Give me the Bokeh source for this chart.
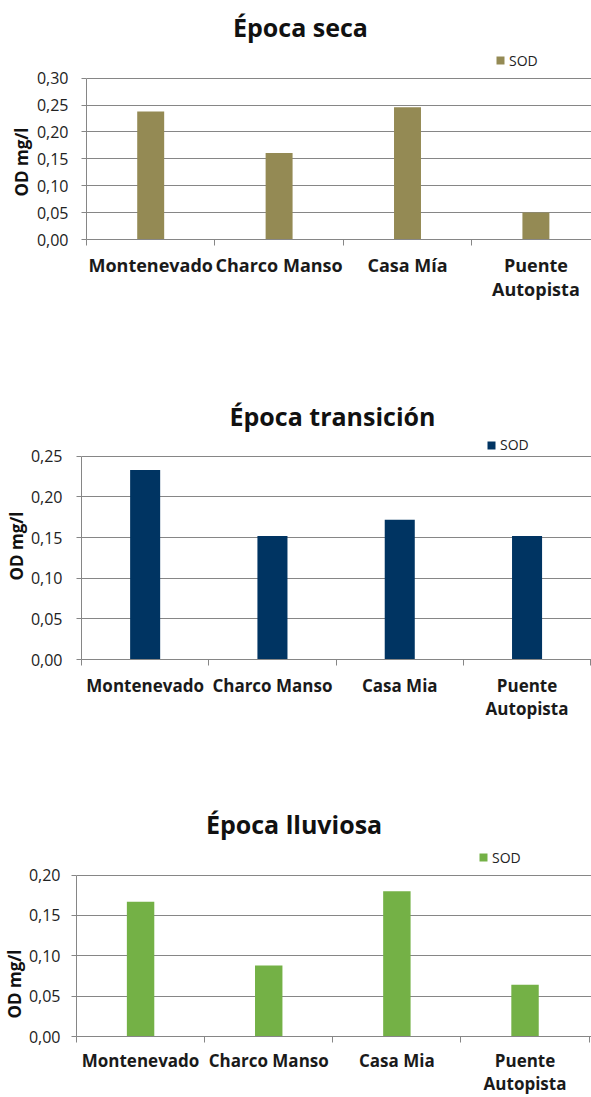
from bokeh.plotting import figure
from bokeh.layouts import column
from bokeh.models import (Range1d, FixedTicker, CustomJSTickFormatter, Label,
                          Legend, LegendItem, Title)
from bokeh.embed import file_html
from bokeh.resources import INLINE

# ---------------- data ----------------
sites_seca = ["Montenevado", "Charco Manso", "Casa Mía", "Puente\nAutopista"]
sites_transicion = ["Montenevado", "Charco Manso", "Casa Mia", "Puente\nAutopista"]
sites_lluviosa = ["Montenevado", "Charco Manso", "Casa Mia", "Puente\nAutopista"]

sod_seca = [0.238, 0.161, 0.246, 0.050]
sod_transicion = [0.233, 0.152, 0.172, 0.152]
sod_lluviosa = [0.167, 0.088, 0.180, 0.064]

yticks_seca = [0.00, 0.05, 0.10, 0.15, 0.20, 0.25, 0.30]
yticks_transicion = [0.00, 0.05, 0.10, 0.15, 0.20, 0.25]
yticks_lluviosa = [0.00, 0.05, 0.10, 0.15, 0.20]

titles = ["Época seca", "Época transición", "Época lluviosa"]
series_name = "SOD"
y_label = "OD mg/l"
colors = ["#948A54", "#003462", "#74B146"]

FONT = "Open Sans"
GRID = "#868686"
PAGE_RIGHT = 591
YLABEL_LEN = 58  # approx. rendered length of the rotated y-axis title


def make_chart(title, sites, values, yticks, color, cfg):
    T, H, L, B, Y1, cat_px = cfg["T"], cfg["H"], cfg["L"], cfg["B"], cfg["Y1"], cfg["cat_px"]
    k = yticks[-1] / (B - Y1)          # value per pixel
    x_end = (PAGE_RIGHT - L) / cat_px
    y_end = (B - T) * k
    p = figure(width=PAGE_RIGHT, height=H, output_backend="svg",
               toolbar_location=None, x_range=Range1d(0, x_end),
               y_range=Range1d(0, y_end),
               min_border_left=L, min_border_right=0, min_border_top=0,
               min_border_bottom=T + H - B, frame_align=False)
    p.outline_line_color = None
    p.background_fill_color = "white"
    p.border_fill_color = "white"

    centers = [i + 0.5 for i in range(len(sites))]
    r = p.vbar(x=centers, top=values, width=cfg["bar_w"], bottom=0,
               fill_color=color, line_color=None)

    # y axis
    ya = p.yaxis[0]
    ya.ticker = FixedTicker(ticks=yticks, minor_ticks=[])
    ya.bounds = (0, yticks[-1])
    ya.formatter = CustomJSTickFormatter(code="return tick.toFixed(2).replace('.', ',');")
    ya.axis_line_color = GRID
    ya.major_tick_line_color = GRID
    ya.major_tick_out = 5
    ya.major_tick_in = 0
    ya.minor_tick_line_color = None
    ya.major_label_text_font = FONT
    ya.major_label_text_font_size = "16px"
    ya.major_label_text_color = "#222222"
    ya.major_label_standoff = cfg["ystand"]

    # y-axis title in the left panel (align="left" = measured up from frame bottom)
    p.add_layout(Title(text=y_label, align="left",
                       offset=B - cfg["yly"] - YLABEL_LEN / 2.0, standoff=cfg["ylstand"],
                       text_font=FONT, text_font_style="bold", text_font_size="17px",
                       text_color="#111111"), "left")

    # x axis
    xa = p.xaxis[0]
    xa.ticker = FixedTicker(ticks=centers, minor_ticks=list(range(len(sites) + 1)))
    xa.major_label_overrides = {c: s for c, s in zip(centers, sites)}
    xa.axis_line_color = GRID
    xa.major_tick_line_color = None
    xa.major_tick_out = 0
    xa.major_tick_in = 0
    xa.minor_tick_line_color = GRID
    xa.minor_tick_out = 6
    xa.minor_tick_in = 0
    xa.major_label_text_font = FONT
    xa.major_label_text_font_style = "bold"
    xa.major_label_text_font_size = cfg["xfs"]
    xa.major_label_text_color = "#1a1a1a"
    xa.major_label_text_line_height = 1.0
    xa.major_label_standoff = cfg["xstand"]

    p.xgrid.grid_line_color = None
    p.ygrid.grid_line_color = GRID
    p.ygrid.grid_line_width = 1

    # chart title
    p.add_layout(Label(x=(cfg["tx"] - L) / cat_px, y=(B - cfg["ty"]) * k,
                       text=title, text_align="center", text_baseline="alphabetic",
                       text_font=FONT, text_font_style="bold", text_font_size="25px",
                       text_color="#111111"))

    # legend
    leg = Legend(items=[LegendItem(label=series_name, renderers=[r])],
                 location=(cfg["lx"] - L, B - cfg["ly"] - 10),
                 orientation="vertical", padding=0, margin=0, spacing=0,
                 glyph_width=10, glyph_height=10, label_standoff=4,
                 label_height=10,
                 label_text_font=FONT, label_text_font_size="14px",
                 label_text_color="#222222",
                 border_line_color=None, background_fill_alpha=0)
    p.add_layout(leg)
    return p


cfg1 = dict(T=0, H=338, L=86, B=239, Y1=77.7, cat_px=128.4, bar_w=0.21,
            tx=300, ty=26, lx=495, ly=59.5, ystand=13, yly=167, ylstand=2,
            xfs="18px", xstand=7)
cfg2 = dict(T=338, H=422, L=81, B=659, Y1=455.7, cat_px=127.3, bar_w=0.236,
            tx=332, ty=415, lx=486, ly=444, ystand=14, yly=551, ylstand=0,
            xfs="17px", xstand=8)
cfg3 = dict(T=760, H=337, L=75, B=1037, Y1=875, cat_px=128.4, bar_w=0.214,
            tx=293, ty=824, lx=477, ly=857.5, ystand=11, yly=990, ylstand=0,
            xfs="17px", xstand=6)

p1 = make_chart(titles[0], sites_seca, sod_seca, yticks_seca, colors[0], cfg1)
p2 = make_chart(titles[1], sites_transicion, sod_transicion, yticks_transicion, colors[1], cfg2)
p3 = make_chart(titles[2], sites_lluviosa, sod_lluviosa, yticks_lluviosa, colors[2], cfg3)

layout = column(p1, p2, p3, spacing=0)
open("out.html", "w").write(file_html(layout, INLINE))
